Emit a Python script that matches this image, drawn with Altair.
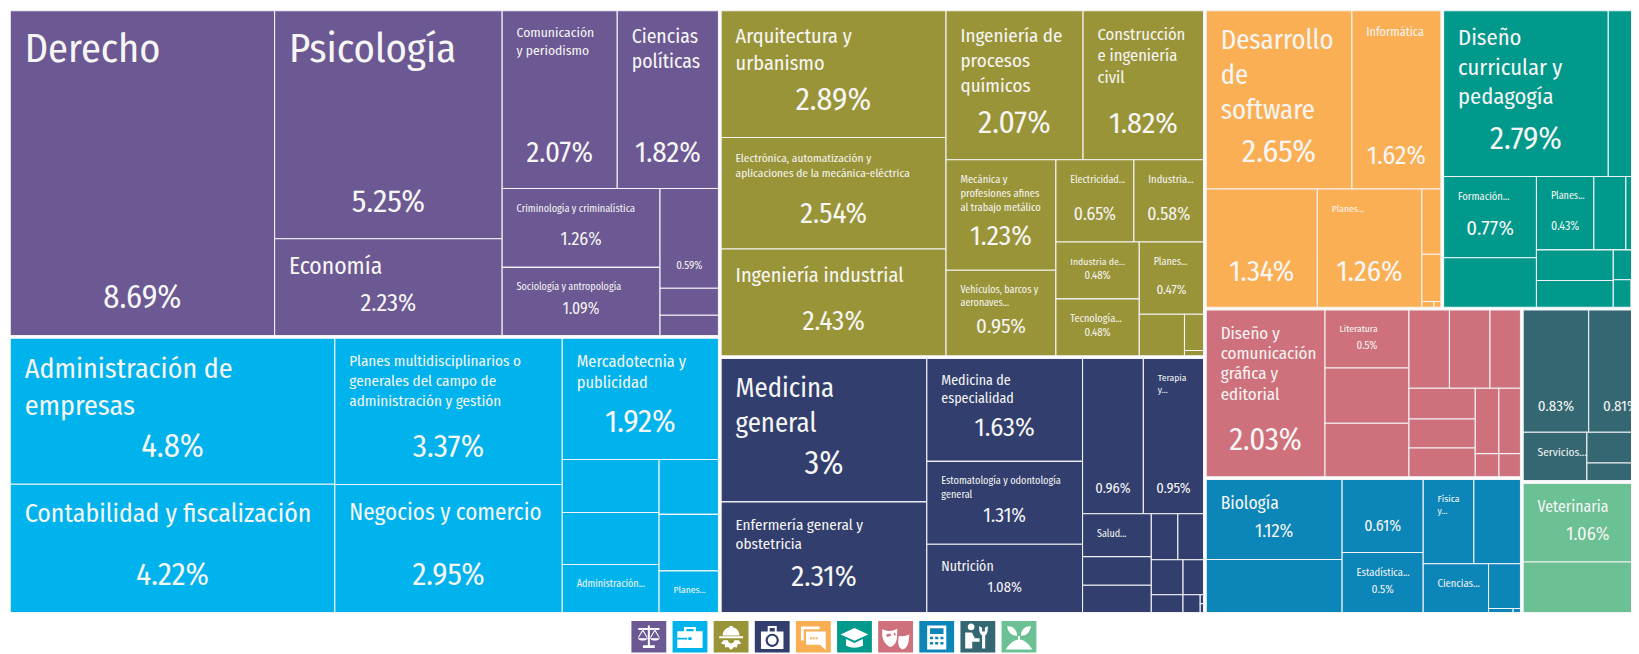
import altair as alt
import pandas as pd

FONT = "Fira Sans Condensed, Roboto Condensed, Open Sans Condensed, Lato, sans-serif"
TITLE_SCALE = 0.88

def H(*c): return ("h", c)
def V(*c): return ("v", c)

categories = ["Ciencias sociales y derecho", "Administración y negocios", "Ingeniería y construcción", "Salud",
              "Tecnologías de la información", "Educación", "Artes y humanidades", "Ciencias naturales y matemáticas",
              "Servicios", "Agronomía y veterinaria"]
colors = ["#6c5893", "#00b3ec", "#9a9439", "#323e6e", "#fbaf55", "#00998c", "#cf717c", "#0c85b8", "#356773", "#6bc094"]

# percentages, nested in the order in which the treemap divides them
v_social = H(8.69, V(5.25, 2.23), V(H(2.07, 1.82), H(V(1.26, 1.09), V(0.59, 0.16, 0.12))))
v_admin = H(V(4.8, 4.22), V(3.37, 2.95), V(1.92, H(V(0.52, 0.51, 0.47), V(0.33, 0.34, 0.25))))
v_ing = H(V(2.89, 2.54, 2.43), V(H(2.07, 1.82), H(V(1.23, 0.95), V(H(0.65, 0.58), H(V(0.48, 0.48), V(0.47, H(0.19, V(0.07, 0.01))))))))
v_salud = H(V(3, 2.31), V(1.63, 1.31, 1.08), V(H(0.96, 0.95), H(V(0.30, 0.20, 0.19), V(H(0.124, 0.12), H(0.113, 0.073), H(0.057, 0.031, V(0.003, 0.003))))))
v_tic = V(H(2.65, 1.62), H(1.34, 1.26, V(0.127, 0.092, H(0.007, 0.004))))
v_edu = V(H(2.79, 0.75), H(V(0.77, 0.47), V(H(0.43, 0.24, 0.2), H(V(0.24, 0.21), V(H(0.06, 0.06), H(0.05, 0.06))))))
v_artes = H(2.03, V(0.5, 0.475, 0.46), V(H(0.325, 0.325, 0.245), H(V(0.209, 0.197, 0.195), V(H(0.158, 0.145), H(0.056, 0.051)))))
v_cien = H(V(1.12, 0.74), V(0.61, 0.5), V(H(0.44, 0.405), H(0.327, V(0.147, H(0.01, 0.003)))))
v_serv = V(H(0.83, 0.81), H(0.32, V(0.21, 0.12)))
v_agro = V(1.06, 0.68)

# text of each leaf, in the same order; "" = no title
t_social = ["Derecho", "Psicología", "Economía", "Comunicación\ny periodismo", "Ciencias\npolíticas",
            "Criminología y criminalística", "Sociología y antropología", "", "", ""]
t_admin = ["Administración de\nempresas", "Contabilidad y fiscalización",
           "Planes multidisciplinarios o\ngenerales del campo de\nadministración y gestión", "Negocios y comercio",
           "Mercadotecnia y\npublicidad", "", "", "Administración...", "", "", "Planes..."]
t_ing = ["Arquitectura y\nurbanismo", "Electrónica, automatización y\naplicaciones de la mecánica-eléctrica", "Ingeniería industrial",
         "Ingeniería de\nprocesos\nquímicos", "Construcción\ne ingeniería\ncivil",
         "Mecánica y\nprofesiones afines\nal trabajo metálico", "Vehículos, barcos y\naeronaves...",
         "Electricidad...", "Industria...", "Industria de...", "Tecnología...", "Planes...", "", "", ""]
t_salud = ["Medicina\ngeneral", "Enfermería general y\nobstetricia", "Medicina de\nespecialidad",
           "Estomatología y odontología\ngeneral", "Nutrición", "", "Terapia\ny...", "Salud..."] + [""] * 10
t_tic = ["Desarrollo\nde\nsoftware", "Informática", "", "Planes..."] + [""] * 4
t_edu = ["Diseño\ncurricular y\npedagogía", "", "Formación...", "", "Planes..."] + [""] * 10
t_artes = ["Diseño y\ncomunicación\ngráfica y\neditorial", "Literatura"] + [""] * 12
t_cien = ["Biología", "", "", "Estadística...", "Física\ny...", "", "Ciencias..."] + [""] * 4
t_serv = ["", "", "Servicios...", "", ""]
t_agro = ["Veterinaria", ""]

# title font size and percentage font size per leaf (0 = not shown)
ts_social = [46, 46.5, 27, 15.5, 22.5, 11.7, 11.5, 0, 0, 0]
ps_social = [32.5, 32, 24.5, 29, 29, 18, 15.7, 10.9, 0, 0]
ts_admin = [32, 29.5, 17.3, 26.3, 18.7, 0, 0, 11.5, 0, 0, 11]
ps_admin = [32.4, 31.5, 31.5, 31.5, 31.9, 0, 0, 0, 0, 0, 0]
ts_ing = [23.2, 13, 23.2, 21.7, 18.9, 12, 11.5, 11.5, 12, 11.2, 11.7, 11.5, 0, 0, 0]
ps_ing = [32, 29, 27.4, 31.6, 30.3, 27.7, 21, 17.7, 17.7, 10.8, 10.8, 13, 0, 0, 0]
ts_salud = [30.5, 17.3, 16, 11.7, 15.8, 0, 11, 11.5] + [0] * 10
ps_salud = [32.6, 29.6, 26.6, 19.7, 14.7, 14.6, 14.6] + [0] * 11
ts_tic = [30.5, 14, 0, 11] + [0] * 4
ps_tic = [32, 26, 29, 29] + [0] * 4
ts_edu = [25.8, 0, 12, 0, 11.5] + [0] * 10
ps_edu = [31.7, 0, 20.8, 0, 12] + [0] * 10
ts_artes = [19.4, 11] + [0] * 12
ps_artes = [31, 11] + [0] * 12
ts_cien = [20, 0, 0, 12, 11, 0, 12] + [0] * 4
ps_cien = [18.5, 0, 16, 11.5, 0, 0, 0, 0, 0, 0, 0]
ts_serv = [0, 0, 13, 0, 0]
ps_serv = [15, 15, 0, 0, 0]
ts_agro = [18, 0]
ps_agro = [18.5, 0]
# title line spacing, relative to the title size
LINE = 1.15
LINE_TIGHT = {"Diseño y\ncomunicación\ngráfica y\neditorial": 1.04}

values = [v_social, v_admin, v_ing, v_salud, v_tic, v_edu, v_artes, v_cien, v_serv, v_agro]
titles = [t_social, t_admin, t_ing, t_salud, t_tic, t_edu, t_artes, t_cien, t_serv, t_agro]
tsizes = [ts_social, ts_admin, ts_ing, ts_salud, ts_tic, ts_edu, ts_artes, ts_cien, ts_serv, ts_agro]
psizes = [ps_social, ps_admin, ps_ing, ps_salud, ps_tic, ps_edu, ps_artes, ps_cien, ps_serv, ps_agro]

# white icon shapes of the legend, in a -1..1 box
icons = [
    "M-.07-.85H.07V.55H.42V.75H-.42V.55H-.07Z M-.75-.68H.75V-.54H-.75Z M-.8.05A.42.32 0 0 0-.06.05Z M.06.05A.42.32 0 0 0 .8.05Z M-.43-.6L-.78.0H-.7L-.43-.45L-.16.0H-.08Z M.43-.6L.08.0H.16L.43-.45L.7.0H.78Z",
    "M-.9-.45H.9V.75H-.9Z M-.9.02V.14H-.2V.02Z M.9.02V.14H.2V.02Z M-.12-.02V.18H.12V-.02Z M-.42-.45V-.75H.42V-.45H.26V-.6H-.26V-.45Z",
    "M-.6-.15A.6.6 0 0 1-.12-.72V-.82H.12V-.72A.6.6 0 0 1 .6-.15Z M-.85-.08H.85V.06H-.85Z M-.55.2H.55L.72.42L.45.5L.42.72L.2.68L.05.85H-.05L-.2.68L-.42.72L-.45.5L-.72.42Z M-.22.2A.22.22 0 0 0 .22.2Z",
    "M-.8-.42H.8V.82H-.8Z M-.32-.42V-.82H.32V-.42H.18V-.68H-.18V-.42Z M-.47.2A.47.47 0 0 0 .47.2A.47.47 0 0 0-.47.2Z M-.32.2A.32.32 0 0 1 .32.2A.32.32 0 0 1-.32.2Z M-.07-.07H.07V.13H.27V.27H.07V.47H-.07V.27H-.27V.13H-.07Z",
    "M-.88-.78H.45V-.58H-.68V.22H-.88Z M-.52-.42H.88V.52V.9L.48.52H-.52Z M-.24-.02V.12H-.1V-.02Z M-.04-.02V.12H.1V-.02Z M.16-.02V.12H.3V-.02Z",
    "M0-.68L.98-.22L0 .24L-.98-.22Z M-.6.1L0 .4L.6.1V.58Q0 .88-.6.58Z",
    "M-.95-.58Q-.42-.32.12-.62L.1.05Q.0.6-.4.68Q-.82.5-.95-.1Z M-.68-.22L-.62-.04L-.3-.12L-.38-.28Z M-.14-.3L-.1-.14L.02-.18L-.04-.34Z M.22-.1Q.55-.05.98-.22L.92.3Q.82.78.48.85Q.18.72.18.3Z",
    "M-.68-.85H.68V.85H-.68Z M-.48-.65V-.25H.48V-.65Z M-.48-.05V.13H-.26V-.05Z M-.11-.05V.13H.11V-.05Z M.26-.05V.13H.48V-.05Z M-.48.32V.5H-.26V.32Z M-.11.32V.5H.11V.32Z M.26.32V.5H.48V.32Z",
    "M-.72-.75A.24.24 0 0 1-.24-.75A.24.24 0 0 1-.72-.75Z M-.9.78V-.35H-.42L-.22.05H.12V.3H-.4V.78Z M.3.78V-.15Q.05-.3.1-.82L.3-.7V-.42H.5V-.7L.7-.82Q.75-.3.52-.15V.78Z",
    "M-.07.3V-.1H.07V.3Z M-.12-.12Q-.75-.1-.85-.8Q-.2-.85-.12-.12Z M.12-.12Q.75-.1.85-.8Q.2-.85.12-.12Z M-.95.85Q-.5.15 0 .15Q.5.15.95.85Z",
]

# -------- layout: every cell's edges follow from the percentages ----------
PAGE_X = (8, 1639)
PAGE_Y = (8, 654)
TREE_BOX = (8.9, 7.8, 1662, 615.2)
GAP = 1.35
TOP = H(V(0, 1), V(2, 3), V(H(4, 5), H(V(6, 7), V(8, 9))))


def total(n):
    if isinstance(n, tuple):
        return sum(total(c) for c in n[1])
    return n


def top_total(n):
    if isinstance(n, tuple):
        return sum(top_total(c) for c in n[1])
    return total(values[n])


def split(n, x0, y0, x1, y1, size, out):
    if not isinstance(n, tuple):
        out.append((n, x0, y0, x1, y1))
        return
    s = sum(size(c) for c in n[1])
    pos = x0 if n[0] == "h" else y0
    span = (x1 - x0) if n[0] == "h" else (y1 - y0)
    for c in n[1]:
        d = span * size(c) / s
        if n[0] == "h":
            split(c, pos, y0, pos + d, y1, size, out)
        else:
            split(c, x0, pos, x1, pos + d, size, out)
        pos += d


groups = []
split(TOP, *TREE_BOX, top_total, groups)

cells, title_rows, pct_rows = [], [], []
for g, gx0, gy0, gx1, gy1 in groups:
    leaves = []
    split(values[g], gx0 + GAP, gy0 + GAP, gx1 - GAP, gy1 - GAP, total, leaves)
    for k, (val, x0, y0, x1, y1) in enumerate(leaves):
        cells.append(dict(cat=categories[g], x=x0, x2=x1, y=y0, y2=y1))
        ts = tsizes[g][k]
        if titles[g][k] and ts:
            fs = ts * TITLE_SCALE
            lh = LINE_TIGHT.get(titles[g][k], LINE)
            for i, line in enumerate(titles[g][k].split("\n")):
                title_rows.append(dict(t=line, x=x0 + 14.5, y=y0 + 13.5 + 0.94 * fs + i * ts * lh, fs=fs))
        ps = psizes[g][k]
        if ps:
            pct_rows.append(dict(t=f"{val:g}%", x=(x0 + x1) / 2, y=y1 - 15.5 - ps * 0.37, fs=ps))

legend_rows = []
for i, cat in enumerate(categories):
    cx = 652 + i * 41.33
    legend_rows.append(dict(cat=cat, x=cx - 17.5, x2=cx + 17.5, y=622.5, y2=660, cx=cx, cy=639, path=icons[i]))

xs = alt.Scale(domain=list(PAGE_X), nice=False, zero=False)
ys = alt.Scale(domain=list(PAGE_Y), nice=False, zero=False, reverse=True)
cs = alt.Scale(domain=categories, range=colors)

X = lambda f="x": alt.X(f"{f}:Q", scale=xs, axis=None)
Y = lambda f="y": alt.Y(f"{f}:Q", scale=ys, axis=None)

rects = alt.Chart(pd.DataFrame(cells)).mark_rect(stroke="#f3f3f5", strokeWidth=1.1, clip=True).encode(
    x=X(), x2="x2:Q", y=Y(), y2="y2:Q", color=alt.Color("cat:N", scale=cs, legend=None))

titles_layer = alt.Chart(pd.DataFrame(title_rows)).mark_text(
    align="left", baseline="alphabetic", font=FONT, color="#f6f6f4", clip=True).encode(
    x=X(), y=Y(), text="t:N", size=alt.Size("fs:Q", scale=None))

pct_layer = alt.Chart(pd.DataFrame(pct_rows)).mark_text(
    align="center", baseline="alphabetic", font=FONT, color="#f6f6f4", clip=True).encode(
    x=X(), y=Y(), text="t:N", size=alt.Size("fs:Q", scale=None))

legend_df = pd.DataFrame(legend_rows)
legend_boxes = alt.Chart(legend_df).mark_rect(clip=True).encode(
    x=X(), x2="x2:Q", y=Y(), y2="y2:Q", color=alt.Color("cat:N", scale=cs, legend=None))
legend_icons = alt.Chart(legend_df).mark_point(filled=True, opacity=1, color="white", clip=True).encode(
    x=X("cx"), y=Y("cy"), shape=alt.Shape("path:N", scale=None), size=alt.value(800))

chart = alt.layer(rects, titles_layer, pct_layer, legend_boxes, legend_icons).properties(
    width=PAGE_X[1] - PAGE_X[0], height=PAGE_Y[1] - PAGE_Y[0], padding=0, background="white"
).configure_view(strokeWidth=0)

chart.save("out.html", embed_options={"renderer": "svg", "actions": False})
